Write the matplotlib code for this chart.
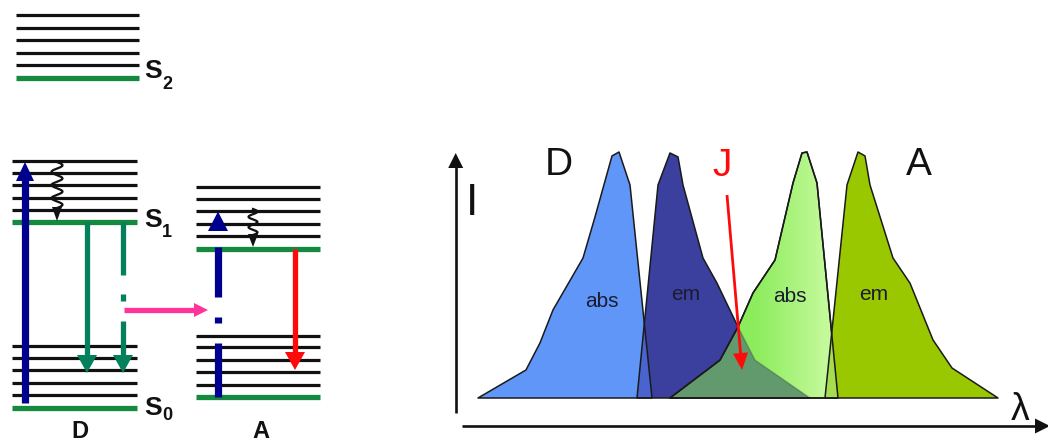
import numpy as np
import matplotlib
matplotlib.use("Agg")
import matplotlib.pyplot as plt
from matplotlib.patches import Polygon

plt.rcParams['font.family'] = ['Liberation Sans', 'DejaVu Sans']

# ---------------------------------------------------------------------------
# Jablonski diagram: energy levels (energy axis points downwards, 0 = top)
s2_vib = [15, 27.5, 40, 52.5, 65]
s2_zero = 77.5
d_s1_vib = [161, 172.5, 184.5, 197.5, 210]
d_s1_zero = 222
d_s0_vib = [345.5, 357.5, 370, 382.5, 395]
d_s0_zero = 407.5
a_s1_vib = [186.5, 199, 211, 223.5, 236]
a_s1_zero = 249
a_s0_vib = [335.5, 347, 359.5, 372, 384.5]
a_s0_zero = 397

state_labels = ['S', 'S', 'S']
state_subs = ['2', '1', '0']
molecule_labels = ['D', 'A']

# Spectra: wavelength (arbitrary units) and normalised intensity
d_abs_lam = [38, 86, 100, 113, 143, 155, 172, 179, 190, 212]
d_abs_int = [0, 0.114, 0.224, 0.358, 0.569, 0.736, 0.984, 1.0, 0.866, 0]
d_em_lam = [197, 218, 230, 238, 243, 263, 277, 298, 315, 370]
d_em_int = [0, 0.866, 0.996, 0.98, 0.866, 0.569, 0.467, 0.289, 0.154, 0]
a_abs_lam = [230, 280, 298, 313, 335, 353, 362, 367, 377, 398]
a_abs_int = [0, 0.154, 0.289, 0.427, 0.561, 0.874, 0.996, 1.0, 0.874, 0]
a_em_lam = [385, 407, 418, 425, 430, 453, 470, 493, 512, 558]
a_em_int = [0, 0.866, 1.0, 0.984, 0.866, 0.569, 0.467, 0.236, 0.122, 0]

spectrum_names = ['abs', 'em', 'abs', 'em']
panel_letters = ['D', 'J', 'A']
axis_names = ['I', 'λ']

# ---------------------------------------------------------------------------
W, H = 1048, 445
fig = plt.figure(figsize=(W / 100, H / 100), dpi=100)

# spectra axes (drawn first, underneath the annotation layer)
ax2 = fig.add_axes([440 / W, 0, 608 / W, 315 / H])
ax2.axis('off')
ax2.patch.set_alpha(0)

# annotation layer in pixel-like units
ax = fig.add_axes([0, 0, 1, 1])
ax.set_xlim(0, W)
ax.set_ylim(H, 0)
ax.axis('off')
ax.patch.set_alpha(0)

BLACK = '#111111'
LEVEL_GREEN = '#14893f'
ARROW_GREEN = '#05805c'
NAVY = '#00008e'
PINK = '#ff3399'
RED = '#ff0a0a'


def levels(vib, zero, x0, x1):
    for y in vib:
        ax.plot([x0, x1], [y, y], color=BLACK, lw=2.3, solid_capstyle='butt', zorder=2)
    ax.plot([x0, x1], [zero, zero], color=LEVEL_GREEN, lw=3.8, solid_capstyle='butt', zorder=2)


def head(xt, yt, ux, uy, length, width, color, z=5):
    bx, by = xt - ux * length, yt - uy * length
    nx, ny = -uy, ux
    ax.add_patch(Polygon([(xt, yt), (bx + nx * width / 2, by + ny * width / 2),
                          (bx - nx * width / 2, by - ny * width / 2)],
                         closed=True, facecolor=color, edgecolor='none', zorder=z))


def arrow(x0, y0, x1, y1, color, lw, hl, hw, segments=None, z=4):
    d = np.hypot(x1 - x0, y1 - y0)
    ux, uy = (x1 - x0) / d, (y1 - y0) / d
    if segments is None:
        segments = [(0, d - hl + 1)]
    for a, b in segments:
        ax.plot([x0 + ux * a, x0 + ux * b], [y0 + uy * a, y0 + uy * b],
                color=color, lw=lw, solid_capstyle='butt', zorder=z)
    head(x1, y1, ux, uy, hl, hw, color, z + 1)


def squiggle(xc, y0, y1, amp, turns, tip):
    t = np.linspace(0, 1, 200)
    xs = xc + amp * np.sin(2 * np.pi * turns * t)
    ys = y0 + (y1 - y0) * t
    ax.plot(xs, ys, color=BLACK, lw=1.6, zorder=4)
    head(xs[-1], tip, 0, 1, tip - y1 + 1, 10, BLACK, 5)


# --- energy levels ---
levels(s2_vib, s2_zero, 16, 139)
levels(d_s1_vib, d_s1_zero, 12, 137)
levels(d_s0_vib, d_s0_zero, 12, 137)
levels(a_s1_vib, a_s1_zero, 196, 320)
levels(a_s0_vib, a_s0_zero, 196, 320)

# state labels
sfont = dict(fontsize=19, fontweight='bold', color=BLACK, va='baseline', ha='left')
bfont = dict(fontsize=13, fontweight='bold', color=BLACK, va='baseline', ha='left')
for (sy, suby), s, sub in zip([(78, 89), (227, 237), (415, 420)], state_labels, state_subs):
    ax.text(144, sy, s, **sfont)
    ax.text(162, suby, sub, **bfont)
ax.text(80, 438, molecule_labels[0], fontsize=17, fontweight='bold', color=BLACK,
        ha='center', va='baseline')
ax.text(261, 438, molecule_labels[1], fontsize=17, fontweight='bold', color=BLACK,
        ha='center', va='baseline')

# --- donor transitions ---
arrow(25, d_s0_vib[-1] + 8, 25, d_s1_vib[0] + 1, NAVY, 5.2, 19, 18)
squiggle(57, d_s1_vib[0] + 1, d_s1_vib[-1] - 2, 5.5, 3.5, d_s1_zero - 1)
arrow(87, d_s1_zero, 87, d_s0_vib[2] + 3, ARROW_GREEN, 3.8, 18, 20)
arrow(123, d_s1_zero, 123, d_s0_vib[2] + 3, ARROW_GREEN, 3.8, 18, 20,
      segments=[(0, 53), (72, 79), (99, 134)])

# energy transfer
arrow(124, 310, 208, 310, PINK, 3.8, 14, 14)

# --- acceptor transitions ---
ax.plot([218, 218], [a_s0_zero, 343], color=NAVY, lw=5.2, solid_capstyle='butt', zorder=4)
ax.plot([218, 218], [323, 317], color=NAVY, lw=5.2, solid_capstyle='butt', zorder=4)
ax.plot([218, 218], [297, a_s1_zero - 2], color=NAVY, lw=5.2, solid_capstyle='butt', zorder=4)
head(218, 211.5, 0, -1, 19.5, 20, NAVY)
squiggle(253, a_s1_vib[2] - 2, a_s1_vib[-1] - 1, 4.5, 2.5, a_s1_zero - 2)
arrow(295, a_s1_zero, 295, 370, RED, 3.8, 18, 20)

# --- spectra ---
LIGHT_BLUE = '#5f96f7'
DARK_BLUE = '#3b3f9d'
MID_BLUE = '#4a64cf'
OLIVE = '#99c800'
J_GREEN = '#629a6e'
PALE_MIX = '#a6dc52'
EDGE = '#1a1a1a'


def poly(lam, inten):
    return list(zip(lam, inten))


def fill(lam, inten, color, z, clip=None):
    p = Polygon(poly(lam, inten), closed=True, facecolor=color, edgecolor='none', zorder=z)
    ax2.add_patch(p)
    if clip is not None:
        p.set_clip_path(clip)
    return p


def outline(lam, inten, z, alpha=1.0, clip=None):
    p = Polygon(poly(lam, inten), closed=True, facecolor='none', edgecolor=EDGE,
                lw=1.1, alpha=alpha, zorder=z, joinstyle='round')
    ax2.add_patch(p)
    if clip is not None:
        p.set_clip_path(clip)
    return p


dabs = fill(d_abs_lam, d_abs_int, LIGHT_BLUE, 1)
dem = fill(d_em_lam, d_em_int, DARK_BLUE, 2)
fill(d_abs_lam, d_abs_int, MID_BLUE, 3, clip=dem)
outline(d_abs_lam, d_abs_int, 3.5)
outline(d_em_lam, d_em_int, 3.5)

# acceptor absorption, bright on the blue side and paler towards the red side
aabs = Polygon(poly(a_abs_lam, a_abs_int), closed=True, facecolor='none',
               edgecolor='none', zorder=4)
ax2.add_patch(aabs)
lo, hi = min(a_abs_lam), max(a_abs_lam)
lam_grid = np.linspace(lo, hi, 256)
ramp = np.clip((lam_grid - 315) / (hi - 315), 0, 1)[None, :, None]
c0 = np.array([140, 236, 92]) / 255
c1 = np.array([205, 252, 165]) / 255
im = ax2.imshow(c0 + (c1 - c0) * ramp, extent=[lo, hi, 0, 1],
                aspect='auto', origin='lower', zorder=4, interpolation='bilinear')
im.set_clip_path(aabs)
fill(d_em_lam, d_em_int, J_GREEN, 5, clip=aabs)
outline(a_abs_lam, a_abs_int, 5.5)
outline(d_em_lam, d_em_int, 5.6, alpha=0.25, clip=aabs)

aem = fill(a_em_lam, a_em_int, OLIVE, 6)
fill(a_abs_lam, a_abs_int, PALE_MIX, 7, clip=aem)
outline(a_abs_lam, a_abs_int, 7.5)
outline(a_em_lam, a_em_int, 7.5)
ax2.set_xlim(0, 608)
ax2.set_ylim(-47 / 246, 268 / 246)

# band names
lfont = dict(fontsize=15, color='#1c1c30', ha='center', va='baseline')
for (px, py), name in zip([(602, 307), (686, 300), (790, 302), (874, 300)], spectrum_names):
    ax.text(px, py, name, **lfont)

# axes of the spectral panel
ax.plot([455.7, 455.7], [413, 166], color=BLACK, lw=1.9, solid_capstyle='butt', zorder=6)
head(455.7, 153, 0, -1, 15, 15, BLACK, 7)
ax.plot([462, 1036], [426, 426], color=BLACK, lw=1.9, solid_capstyle='butt', zorder=6)
head(1050, 426, 1, 0, 15, 15, BLACK, 7)

ax.text(472.5, 215, axis_names[0], fontsize=32, color=BLACK, ha='center', va='baseline')
ax.text(1020, 420, axis_names[1], fontsize=27, color=BLACK, ha='center', va='baseline')
ax.text(559, 175, panel_letters[0], fontsize=28, color=BLACK, ha='center', va='baseline')
ax.text(722, 176, panel_letters[1], fontsize=28, color=RED, ha='center', va='baseline')
ax.text(919, 175, panel_letters[2], fontsize=28, color=BLACK, ha='center', va='baseline')

# spectral overlap arrow
arrow(727, 195, 742, 370, RED, 2.0, 17, 15, z=8)

fig.savefig('out.png', dpi=100)
